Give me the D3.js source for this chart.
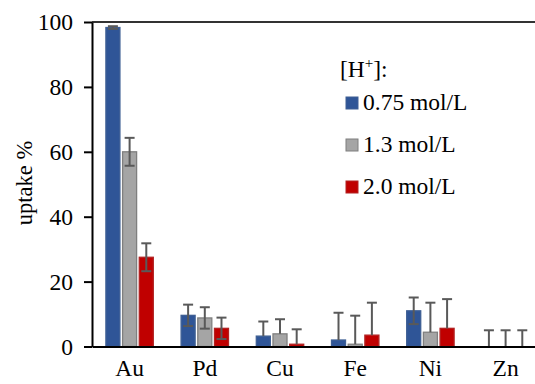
<!DOCTYPE html>
<html>
<head>
<meta charset="utf-8">
<script src="https://cdn.jsdelivr.net/npm/d3@7"></script>
<style>
  body { margin: 0; background: #fff; }
  text { font-family: "Liberation Serif", "Times New Roman", serif; fill: #000; }
</style>
</head>
<body>
<div id="chart"></div>
<script>
// uptake data
var metals = ["Au", "Pd", "Cu", "Fe", "Ni", "Zn"];
var series = ["0.75 mol/L", "1.3 mol/L", "2.0 mol/L"];
var uptake075 = [98.3, 9.6, 3.2, 2.0, 11.0, 0];
var uptake13 = [60.0, 8.8, 3.9, 0.7, 4.4, 0];
var uptake20 = [27.5, 5.6, 0.7, 3.5, 5.6, 0];
var err075 = [0.4, 3.3, 4.5, 8.4, 4.1, 5.0];
var err13 = [4.3, 3.3, 4.5, 8.8, 9.1, 5.0];
var err20 = [4.3, 3.3, 4.6, 10.0, 9.0, 5.0];
var yTicks = [0, 20, 40, 60, 80, 100];

var fills = ["#2F5597", "#A5A5A5", "#C00000"],
    strokes = ["#3E5F94", "#7F7F7F", "#B22222"];

var W = 535, H = 384;
var margin = {left: 92, top: 22, bottom: 37.5};
var fs = "23.5px";

var values = [uptake075, uptake13, uptake20],
    errs = [err075, err13, err20];

// flat table for drawing
var rows = [];
metals.forEach(function(m, i){
  series.forEach(function(s, j){
    rows.push({metal: m, s: s, k: j, v: values[j][i], e: errs[j][i]});
  });
});

var svg = d3.select("#chart").append("svg")
    .attr("width", W)
    .attr("height", H);

var x0 = d3.scaleBand()
    .domain(metals)
    .range([margin.left, margin.left + 6 * 75.2]);

var x1 = d3.scaleBand()
    .domain(series)
    .range([0, 47.4])
    .paddingInner(0.16);

var y = d3.scaleLinear()
    .domain([0, 100])
    .range([H - margin.bottom, margin.top]);

function barX(d){ return x0(d.metal) + x0.bandwidth() / 2 - 23.7 + x1(d.s); }

// bars
svg.append("g").selectAll("rect")
  .data(rows.filter(function(d){ return d.v > 0; }))
  .join("rect")
    .attr("x", barX)
    .attr("y", function(d){ return y(d.v); })
    .attr("width", x1.bandwidth())
    .attr("height", function(d){ return y(0) - y(d.v); })
    .attr("fill", function(d){ return fills[d.k]; })
    .attr("stroke", function(d){ return strokes[d.k]; })
    .attr("stroke-width", 1.3);

// error bars (lower whisker hidden when it would go under 0)
var eb = svg.append("g")
    .attr("stroke", "#595959")
    .attr("stroke-width", 2)
    .selectAll("g")
  .data(rows)
  .join("g")
    .attr("transform", function(d){ return "translate(" + (barX(d) + x1.bandwidth() / 2) + ",0)"; });

eb.append("line")
    .attr("y1", function(d){ return y(d.v + d.e); })
    .attr("y2", function(d){ return d.v - d.e >= 0 ? y(d.v - d.e) : y(d.v); });
eb.append("line")
    .attr("x1", -5).attr("x2", 5)
    .attr("y1", function(d){ return y(d.v + d.e); })
    .attr("y2", function(d){ return y(d.v + d.e); });
eb.filter(function(d){ return d.v - d.e >= 0; }).append("line")
    .attr("x1", -5).attr("x2", 5)
    .attr("y1", function(d){ return y(d.v - d.e); })
    .attr("y2", function(d){ return y(d.v - d.e); });

// top border of plot
svg.append("line")
    .attr("x1", margin.left).attr("x2", W)
    .attr("y1", y(100)).attr("y2", y(100))
    .attr("stroke", "#333").attr("stroke-width", 2);

// y axis
var yAxis = svg.append("g")
    .attr("transform", "translate(" + margin.left + ",0)")
    .call(d3.axisLeft(y).tickValues(yTicks).tickSize(8).tickSizeOuter(0).tickPadding(11));
yAxis.select(".domain").attr("stroke", "#000").attr("stroke-width", 2);
yAxis.selectAll(".tick line").attr("stroke", "#000").attr("stroke-width", 2);
yAxis.selectAll("text").style("font-size", fs).attr("fill", "#000");

// x axis
var xAxis = svg.append("g")
    .attr("transform", "translate(0," + y(0) + ")")
    .call(d3.axisBottom(x0).tickSize(0).tickPadding(13));
xAxis.select(".domain").attr("stroke", "#000").attr("stroke-width", 2);
xAxis.selectAll("text").style("font-size", fs).attr("fill", "#000");

// y label
svg.append("text")
    .attr("transform", "translate(32,183) rotate(-90)")
    .attr("text-anchor", "middle")
    .style("font-size", "22.5px")
    .text("uptake %");

// legend
var lg = svg.append("g");
var title = lg.append("text")
    .attr("x", 340).attr("y", 77)
    .style("font-size", fs);
title.append("tspan").text("[H");
title.append("tspan").attr("dy", -9).style("font-size", "15px").text("+");
title.append("tspan").attr("dy", 9).text("]:");

var items = lg.selectAll("g.item")
  .data(series)
  .join("g")
    .attr("class", "item")
    .attr("transform", function(d, i){ return "translate(346," + (97 + i * 42) + ")"; });
items.append("rect")
    .attr("width", 12).attr("height", 12)
    .attr("fill", function(d, i){ return fills[i]; })
    .attr("stroke", function(d, i){ return strokes[i]; });
items.append("text")
    .attr("x", 17).attr("y", 13)
    .style("font-size", fs)
    .text(function(d){ return d; });
</script>
</body>
</html>
